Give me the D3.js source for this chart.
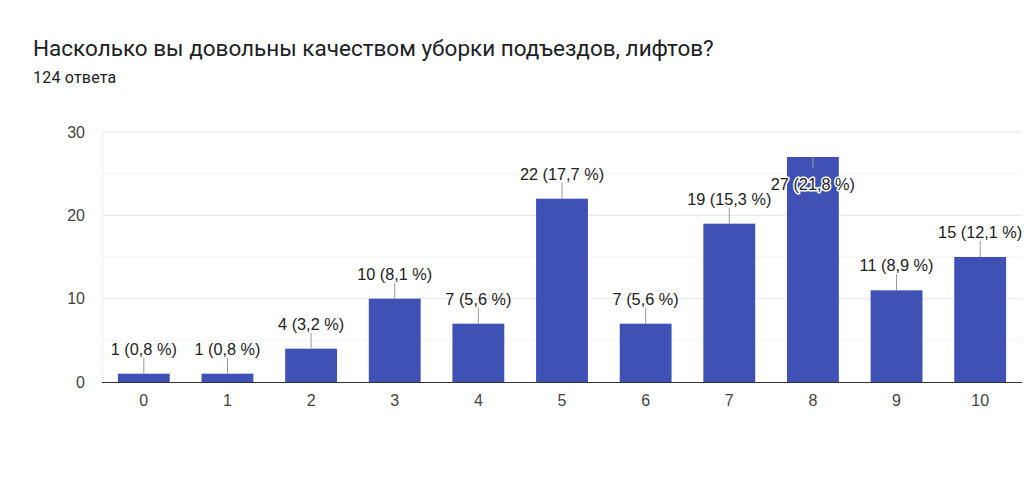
<!DOCTYPE html>
<html>
<head>
<meta charset="utf-8">
<script src="https://cdn.jsdelivr.net/npm/d3@7"></script>
<style>
  body { margin: 0; background: #fff; font-family: Roboto, Arial, sans-serif; }
  .title { font-family: Roboto, sans-serif; font-size: 22.5px; fill: #202124; }
  .sub { font-family: Roboto, sans-serif; font-size: 16px; letter-spacing: 0.2px; fill: #202124; }
  .tick text { font-family: "Liberation Sans", Arial, sans-serif; font-size: 16px; fill: #444; }
  .lbl { font-family: "Liberation Sans", Arial, sans-serif; font-size: 16.3px; fill: #222; }
</style>
</head>
<body>
<div id="chart"></div>
<script>
// data
const categories = ["0","1","2","3","4","5","6","7","8","9","10"];
const counts = [1, 1, 4, 10, 7, 22, 7, 19, 27, 11, 15];
const percents = ["0,8", "0,8", "3,2", "8,1", "5,6", "17,7", "5,6", "15,3", "21,8", "8,9", "12,1"];
const yTicks = [0, 10, 20, 30];
const gridTicks = [5, 10, 15, 20, 25, 30];

const W = 1024, H = 487;
const margin = {top: 132, right: 2, bottom: 105, left: 102},
    width = W - margin.left - margin.right,
    height = H - margin.top - margin.bottom;

const root = d3.select("#chart").append("svg")
    .attr("width", W).attr("height", H);

root.append("text").attr("class", "title")
    .attr("x", 33).attr("y", 56)
    .text("Насколько вы довольны качеством уборки подъездов, лифтов?");
root.append("text").attr("class", "sub")
    .attr("x", 33).attr("y", 83)
    .text("124 ответа");

const svg = root.append("g")
    .attr("transform", `translate(${margin.left},${margin.top})`);

const x = d3.scaleBand().domain(categories).range([0, width]).paddingInner(0.38).paddingOuter(0.19);
const y = d3.scaleLinear().domain([0, 30]).range([height, 0]);

// gridlines
svg.selectAll(".grid").data(gridTicks).join("line")
    .attr("x1", 0).attr("x2", width)
    .attr("y1", d => y(d)).attr("y2", d => y(d))
    .attr("stroke", d => d % 10 === 0 ? "#e6e6e6" : "#f3f3f3")
    .attr("stroke-width", 1);
svg.append("line")
    .attr("x1", 0.5).attr("x2", 0.5).attr("y1", 0).attr("y2", height)
    .attr("stroke", "#f0f0f0");

// y axis
const yAxis = svg.append("g")
    .call(d3.axisLeft(y).tickValues(yTicks).tickSize(0).tickPadding(17));
yAxis.select(".domain").remove();
yAxis.selectAll("text").attr("dy", "0.32em");

// bars
svg.selectAll(".bar").data(counts).join("rect")
    .attr("x", (d, i) => x(categories[i]))
    .attr("width", x.bandwidth())
    .attr("y", d => y(d))
    .attr("height", d => height - y(d))
    .attr("fill", "#3f51b5");

// baseline
svg.append("line")
    .attr("x1", 0).attr("x2", width)
    .attr("y1", height + 0.5).attr("y2", height + 0.5)
    .attr("stroke", "#333").attr("stroke-width", 1.2);

// x axis
const xAxis = svg.append("g")
    .attr("transform", `translate(0,${height})`)
    .call(d3.axisBottom(x).tickSize(0).tickPadding(13));
xAxis.select(".domain").remove();

// labels with leader lines
counts.forEach(function(d, i) {
  const cx = x(categories[i]) + x.bandwidth() / 2;
  const top = y(d);
  const inside = top - 26 < 0;
  const lineEnd = inside ? top + 11 : top - 16;
  const base = inside ? top + 33 : top - 19;

  svg.append("line")
      .attr("x1", cx).attr("x2", cx)
      .attr("y1", top).attr("y2", lineEnd)
      .attr("stroke", "#999").attr("stroke-width", 1);

  const t = svg.append("text")
      .attr("class", "lbl")
      .attr("x", cx).attr("y", base)
      .attr("text-anchor", "middle")
      .text(`${d} (${percents[i]} %)`);
  if (inside) {
    t.attr("stroke", "#fff").attr("stroke-width", 3)
      .attr("paint-order", "stroke").attr("stroke-linejoin", "round");
  }
});
</script>
</body>
</html>
